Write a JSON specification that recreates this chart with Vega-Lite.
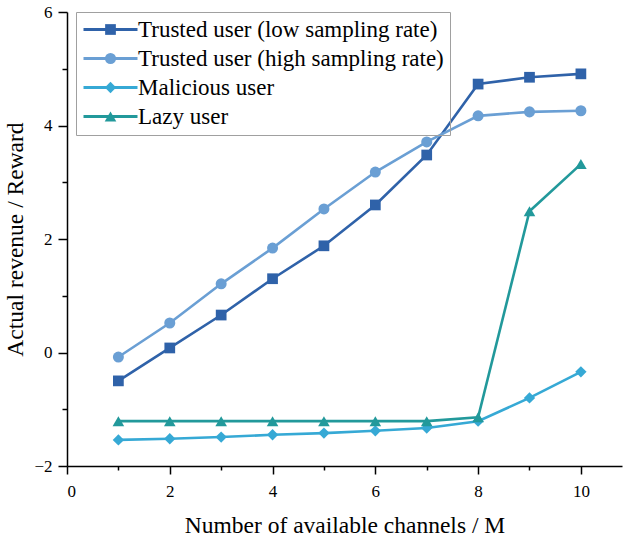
{
  "$schema": "https://vega.github.io/schema/vega-lite/v6.json",
  "width": 555,
  "height": 454,
  "autosize": {"type": "none"},
  "padding": {"left": 67, "top": 12, "right": 2, "bottom": 70},
  "background": "white",
  "config": {
    "view": {"stroke": null},
    "font": "Liberation Serif, Times New Roman, DejaVu Serif, serif",
    "axis": {
      "labelFont": "Liberation Serif, Times New Roman, DejaVu Serif, serif",
      "titleFont": "Liberation Serif, Times New Roman, DejaVu Serif, serif"
    },
    "legend": {
      "labelFont": "Liberation Serif, Times New Roman, DejaVu Serif, serif",
      "labelFontSize": 23,
      "labelLimit": 0,
      "labelColor": "#000000"
    }
  },
  "data": {
    "values": [
      {"series": "Trusted user (low sampling rate)", "m": 1, "reward": -0.5},
      {"series": "Trusted user (low sampling rate)", "m": 2, "reward": 0.08},
      {"series": "Trusted user (low sampling rate)", "m": 3, "reward": 0.66},
      {"series": "Trusted user (low sampling rate)", "m": 4, "reward": 1.3},
      {"series": "Trusted user (low sampling rate)", "m": 5, "reward": 1.88},
      {"series": "Trusted user (low sampling rate)", "m": 6, "reward": 2.6},
      {"series": "Trusted user (low sampling rate)", "m": 7, "reward": 3.48},
      {"series": "Trusted user (low sampling rate)", "m": 8, "reward": 4.73},
      {"series": "Trusted user (low sampling rate)", "m": 9, "reward": 4.85},
      {"series": "Trusted user (low sampling rate)", "m": 10, "reward": 4.91},
      {"series": "Trusted user (high sampling rate)", "m": 1, "reward": -0.08},
      {"series": "Trusted user (high sampling rate)", "m": 2, "reward": 0.52},
      {"series": "Trusted user (high sampling rate)", "m": 3, "reward": 1.21},
      {"series": "Trusted user (high sampling rate)", "m": 4, "reward": 1.84},
      {"series": "Trusted user (high sampling rate)", "m": 5, "reward": 2.53},
      {"series": "Trusted user (high sampling rate)", "m": 6, "reward": 3.18},
      {"series": "Trusted user (high sampling rate)", "m": 7, "reward": 3.71},
      {"series": "Trusted user (high sampling rate)", "m": 8, "reward": 4.17},
      {"series": "Trusted user (high sampling rate)", "m": 9, "reward": 4.24},
      {"series": "Trusted user (high sampling rate)", "m": 10, "reward": 4.26},
      {"series": "Malicious user", "m": 1, "reward": -1.54},
      {"series": "Malicious user", "m": 2, "reward": -1.52},
      {"series": "Malicious user", "m": 3, "reward": -1.49},
      {"series": "Malicious user", "m": 4, "reward": -1.45},
      {"series": "Malicious user", "m": 5, "reward": -1.42},
      {"series": "Malicious user", "m": 6, "reward": -1.38},
      {"series": "Malicious user", "m": 7, "reward": -1.33},
      {"series": "Malicious user", "m": 8, "reward": -1.21},
      {"series": "Malicious user", "m": 9, "reward": -0.8},
      {"series": "Malicious user", "m": 10, "reward": -0.34},
      {"series": "Lazy user", "m": 1, "reward": -1.21},
      {"series": "Lazy user", "m": 2, "reward": -1.21},
      {"series": "Lazy user", "m": 3, "reward": -1.21},
      {"series": "Lazy user", "m": 4, "reward": -1.21},
      {"series": "Lazy user", "m": 5, "reward": -1.21},
      {"series": "Lazy user", "m": 6, "reward": -1.21},
      {"series": "Lazy user", "m": 7, "reward": -1.21},
      {"series": "Lazy user", "m": 8, "reward": -1.14},
      {"series": "Lazy user", "m": 9, "reward": 2.49},
      {"series": "Lazy user", "m": 10, "reward": 3.32}
    ]
  },
  "encoding": {
    "x": {
      "field": "m",
      "type": "quantitative",
      "scale": {"domain": [0, 10.8], "nice": false, "zero": false},
      "axis": {
        "title": "Number of available channels / M",
        "grid": false,
        "domainColor": "#000000",
        "domainWidth": 1.5,
        "tickColor": "#000000",
        "tickWidth": 1.5,
        "labelColor": "#000000",
        "labelFont": "Liberation Serif, Times New Roman, DejaVu Serif, serif",
        "labelFontSize": 17,
        "titleFont": "Liberation Serif, Times New Roman, DejaVu Serif, serif",
        "titleFontSize": 23.5,
        "titleFontWeight": "normal",
        "titleColor": "#000000",
        "values": [0, 1, 2, 3, 4, 5, 6, 7, 8, 9, 10],
        "labelExpr": "datum.value % 2 === 0 ? datum.label : ''",
        "tickSize": {"condition": {"test": "datum.value % 2 === 0", "value": 8}, "value": 4},
        "labelPadding": 9,
        "titlePadding": 14
      }
    },
    "y": {
      "field": "reward",
      "type": "quantitative",
      "scale": {"domain": [-2, 6], "nice": false, "zero": false},
      "axis": {
        "title": "Actual revenue / Reward",
        "grid": false,
        "domainColor": "#000000",
        "domainWidth": 1.5,
        "tickColor": "#000000",
        "tickWidth": 1.5,
        "labelColor": "#000000",
        "labelFont": "Liberation Serif, Times New Roman, DejaVu Serif, serif",
        "labelFontSize": 17,
        "titleFont": "Liberation Serif, Times New Roman, DejaVu Serif, serif",
        "titleFontSize": 23.5,
        "titleFontWeight": "normal",
        "titleColor": "#000000",
        "values": [-2, -1, 0, 1, 2, 3, 4, 5, 6],
        "labelExpr": "datum.value % 2 === 0 ? datum.label : ''",
        "tickSize": {"condition": {"test": "datum.value % 2 === 0", "value": 9}, "value": 5},
        "labelPadding": 6,
        "titlePadding": 6
      }
    }
  },
  "layer": [
    {
      "mark": {"type": "line", "strokeWidth": 2.6},
      "encoding": {
        "stroke": {
          "field": "series",
          "type": "nominal",
          "sort": ["Trusted user (low sampling rate)", "Trusted user (high sampling rate)", "Malicious user", "Lazy user"],
          "scale": {"range": ["#2f62a9", "#6a9fd4", "#36a9d5", "#22999b"]},
          "legend": {
            "title": null,
            "orient": "none",
            "legendX": 9,
            "legendY": 0,
            "symbolType": "M-6,0H6",
            "symbolSize": 81,
            "symbolStrokeWidth": 3,
            "symbolOffset": 17,
            "labelOffset": 16,
            "rowPadding": 5,
            "padding": 6,
            "strokeColor": "#a0a0a0"
          }
        }
      }
    },
    {
      "mark": {"type": "point", "filled": true, "opacity": 1},
      "encoding": {
        "color": {
          "field": "series",
          "type": "nominal",
          "scale": {
            "domain": ["Trusted user (low sampling rate)", "Trusted user (high sampling rate)", "Malicious user", "Lazy user"],
            "range": ["#2f62a9", "#6a9fd4", "#36a9d5", "#22999b"]
          },
          "legend": {
            "title": null,
            "orient": "none",
            "legendX": 9,
            "legendY": 0,
            "symbolSize": 120,
            "symbolStrokeWidth": 0,
            "symbolOpacity": 1,
            "symbolOffset": 17,
            "labelOffset": 16,
            "labelColor": "transparent",
            "rowPadding": 5,
            "padding": 6
          }
        },
        "shape": {
          "field": "series",
          "type": "nominal",
          "scale": {
            "domain": ["Trusted user (low sampling rate)", "Trusted user (high sampling rate)", "Malicious user", "Lazy user"],
            "range": ["square", "circle", "diamond", "triangle-up"]
          },
          "legend": {
            "title": null,
            "orient": "none",
            "legendX": 9,
            "legendY": 0,
            "symbolSize": 120,
            "symbolStrokeWidth": 0,
            "symbolOpacity": 1,
            "symbolOffset": 17,
            "labelOffset": 16,
            "labelColor": "transparent",
            "rowPadding": 5,
            "padding": 6
          }
        },
        "size": {
          "field": "series",
          "type": "nominal",
          "scale": {
            "domain": ["Trusted user (low sampling rate)", "Trusted user (high sampling rate)", "Malicious user", "Lazy user"],
            "range": [115, 135, 170, 135]
          },
          "legend": null
        }
      }
    }
  ]
}
